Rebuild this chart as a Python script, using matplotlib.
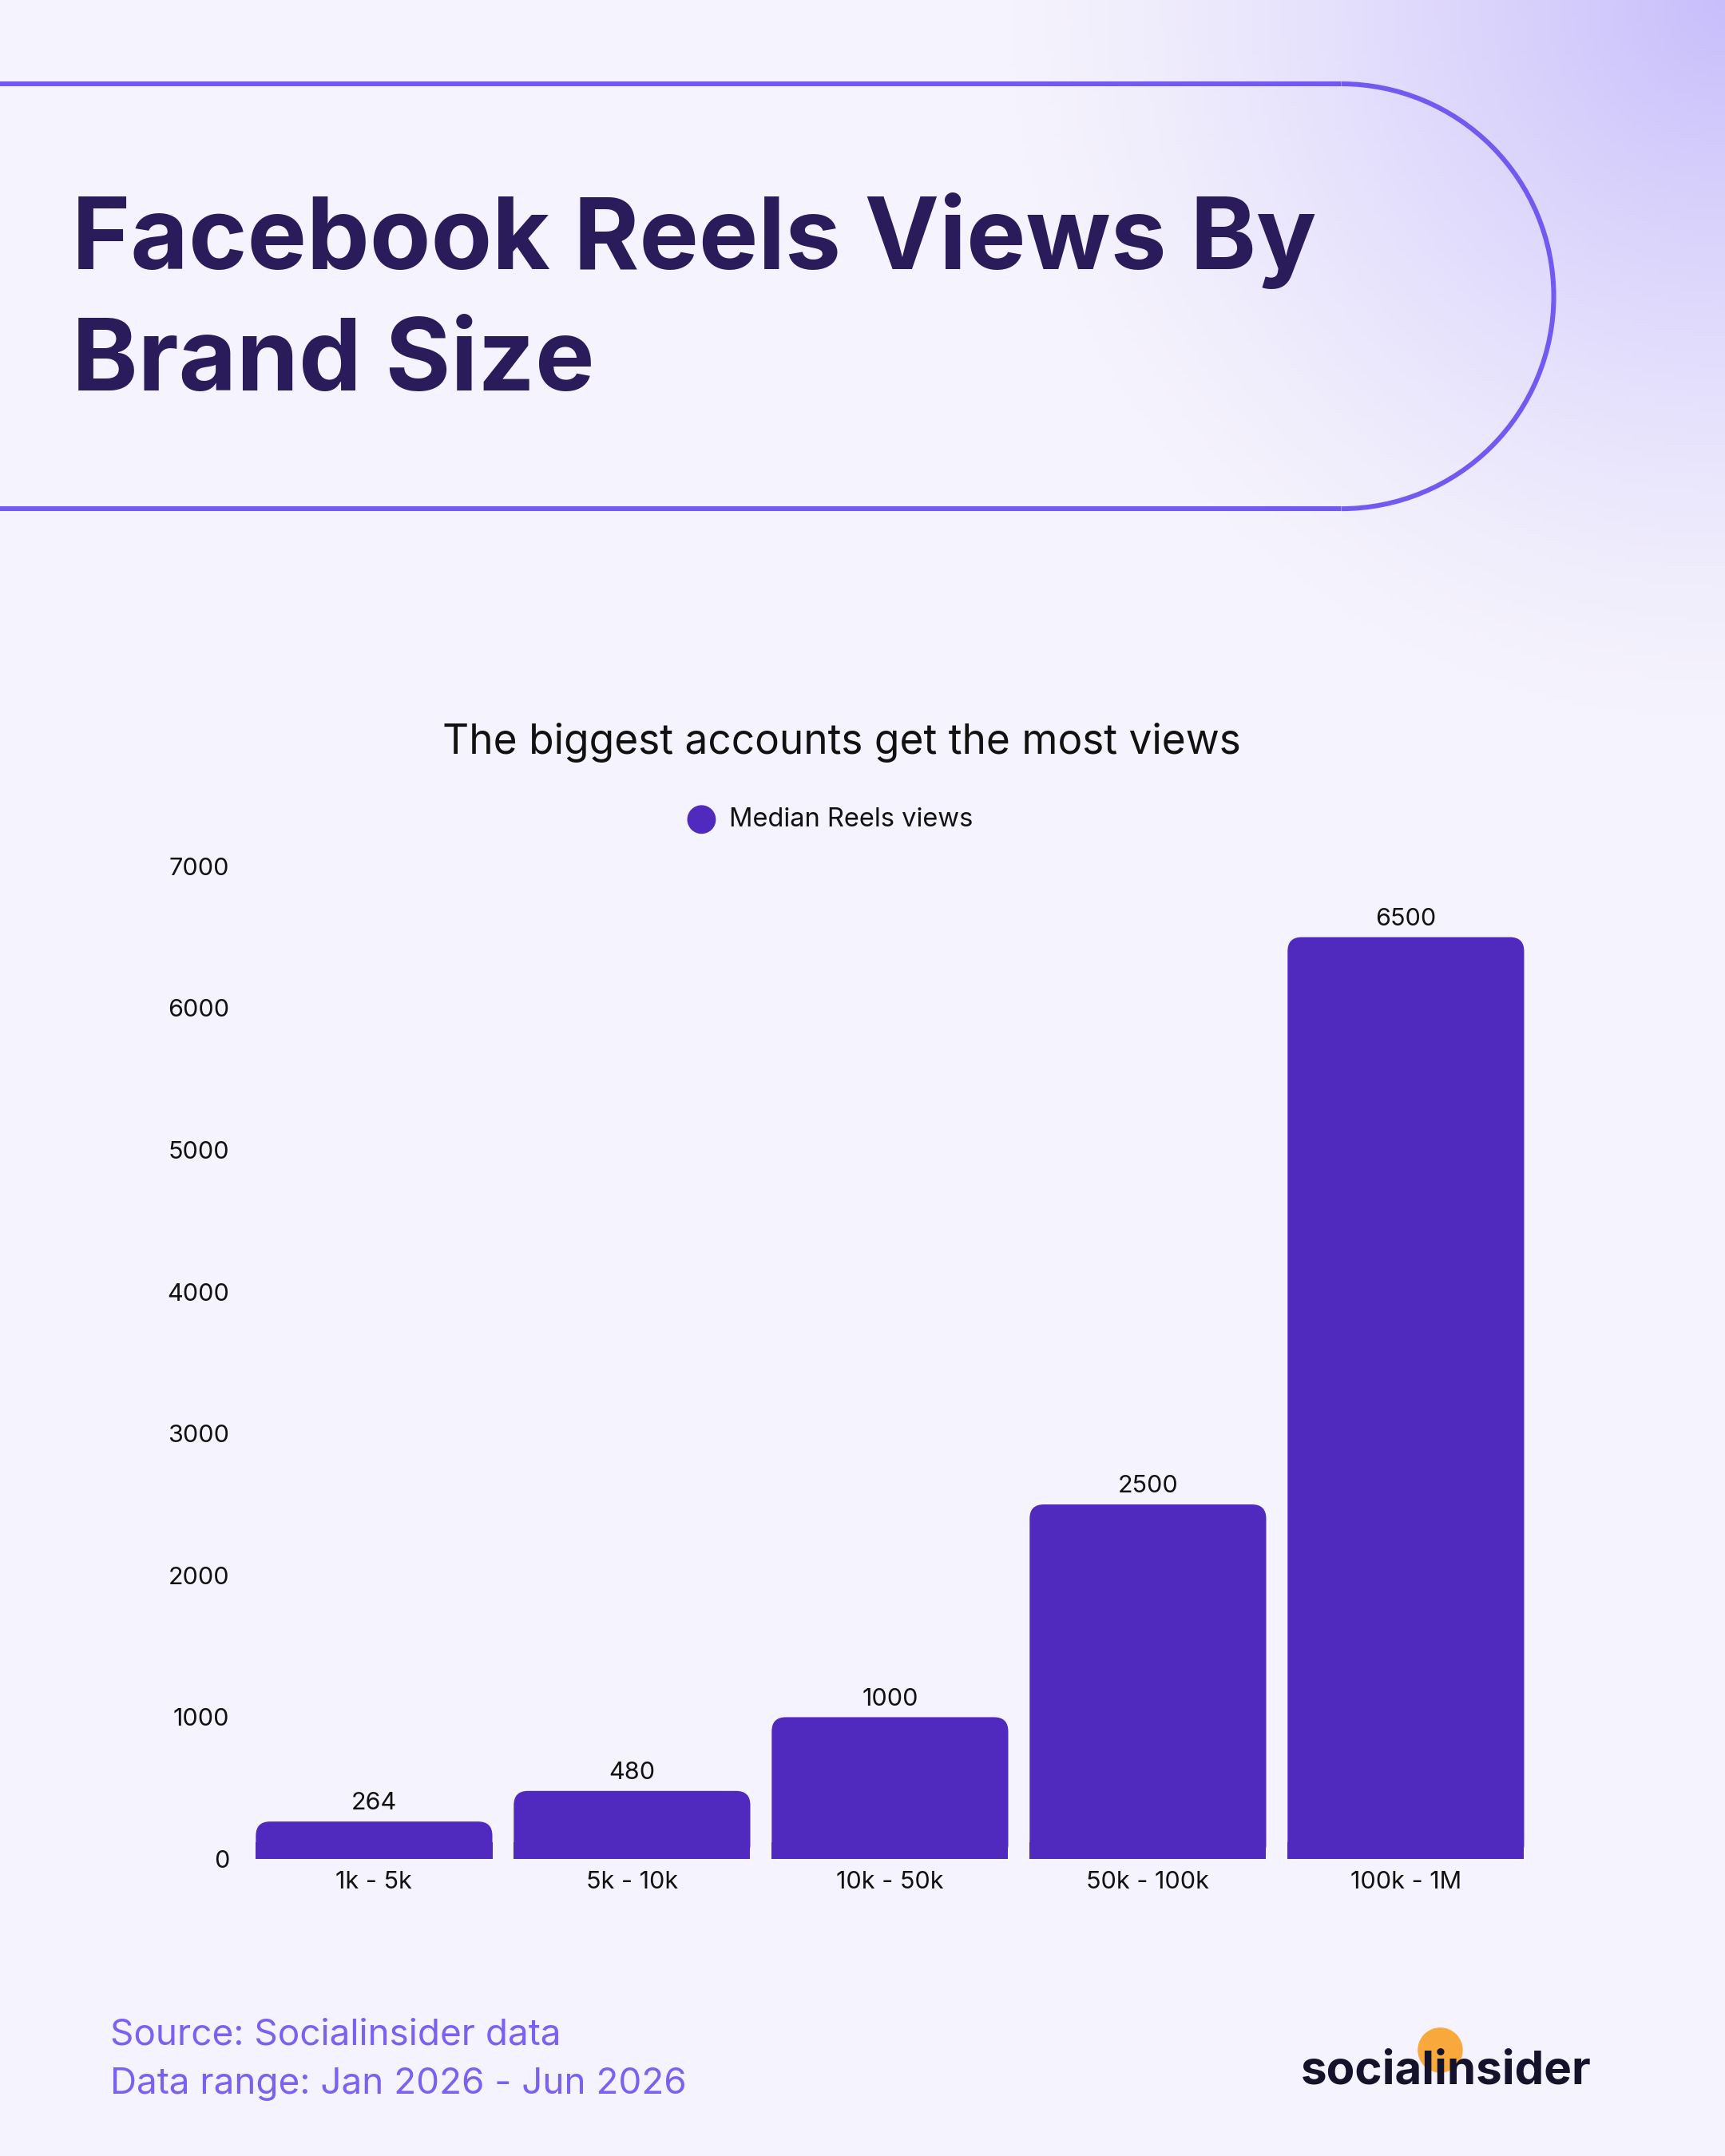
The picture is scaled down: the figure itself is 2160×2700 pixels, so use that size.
import numpy as np
import matplotlib
matplotlib.use("Agg")
import matplotlib.pyplot as plt
from matplotlib.patches import FancyBboxPatch, Rectangle, Arc, Circle

categories = ["1k - 5k", "5k - 10k", "10k - 50k", "50k - 100k", "100k - 1M"]
values = [264, 480, 1000, 2500, 6500]
yticks = [0, 1000, 2000, 3000, 4000, 5000, 6000, 7000]

W, H = 1254, 1568
fig = plt.figure(figsize=(21.6, 27), dpi=100)
fig.patch.set_facecolor("#F5F3FD")
S = 2160 / W

def fx(x): return x / W
def fy(y): return 1 - y / H

# background
bg = fig.add_axes([0, 0, 1, 1])
bg.set_xlim(0, W); bg.set_ylim(H, 0); bg.axis("off")
yy, xx = np.mgrid[0:H:4, 0:W:4]
d = np.sqrt((xx - W) ** 2 + (yy - 0) ** 2)
t = np.clip(1 - d / 520, 0, 1) ** 1.3
base = np.array([0xF5, 0xF3, 0xFD]) / 255
corner = np.array([0xC8, 0xBE, 0xFB]) / 255
img = base[None, None, :] * (1 - t[..., None]) + corner[None, None, :] * t[..., None]
bg.imshow(img, extent=[0, W, H, 0], aspect="auto", zorder=0)
pc = "#7159F2"
lw = 3.5 * S * 0.72
bg.plot([0, 975], [61, 61], color=pc, lw=lw, solid_capstyle="butt")
bg.plot([0, 975], [370, 370], color=pc, lw=lw, solid_capstyle="butt")
bg.add_patch(Arc((975, 215.5), 309, 309, theta1=-90, theta2=90, color=pc, lw=lw))

title_c = "#2A1B5B"
fig.text(fx(52), fy(175), "Facebook Reels Views By", fontsize=90, fontweight="bold",
         family="Inter", color=title_c, va="center", ha="left")
fig.text(fx(52), fy(265), "Brand Size", fontsize=90, fontweight="bold",
         family="Inter", color=title_c, va="center", ha="left")

fig.text(fx(612), fy(540), "The biggest accounts get the most views", fontsize=37,
         family="Inter", color="#111111", ha="center", va="center")
bg.add_patch(Circle((510, 596), 10, color="#5029BE"))
fig.text(fx(530), fy(596), "Median Reels views", fontsize=23.5, family="Inter",
         color="#111111", ha="left", va="center")

# chart
ax = fig.add_axes([fx(178), fy(1352), fx(1115) - fx(178), fy(630) - fy(1352)])
ax.set_facecolor("none")
x0, x1 = -0.501, 4.496
ax.set_xlim(x0, x1)
ax.set_ylim(0, 7000)
x = np.arange(len(categories))
bars = ax.bar(x, values, width=0.917, color="none")
xpp = (x1 - x0) / 937
ypp = 7000 / 722
asp = ypp / xpp
bc = "#5029BE"
for b, v in zip(bars, values):
    r = 0.055
    ax.add_patch(FancyBboxPatch((b.get_x(), 0), b.get_width(), v,
                 boxstyle=f"round,pad=0,rounding_size={r}", mutation_aspect=asp,
                 fc=bc, ec="none", zorder=2))
    ax.add_patch(Rectangle((b.get_x(), 0), b.get_width(), min(v, 120), fc=bc, ec="none", zorder=2))
    ax.text(b.get_x() + b.get_width() / 2, v + 50, f"{v}", ha="center", va="bottom",
            fontsize=22, family="Inter", color="#111111")
ax.set_xticks(x)
ax.set_xticklabels(categories, fontsize=22, family="Inter", color="#111111")
ax.set_yticks(yticks)
ax.set_yticklabels([str(v) for v in yticks], fontsize=22, family="Inter", color="#111111")
ax.tick_params(length=0, pad=11)
ax.tick_params(axis="y", pad=14)
for sp in ax.spines.values():
    sp.set_visible(False)

sc = "#7B61F0"
fig.text(fx(80), fy(1480), "Source: Socialinsider data", fontsize=33, family="Inter",
         color=sc, ha="left", va="center")
fig.text(fx(80), fy(1516), "Data range: Jan 2026 - Jun 2026", fontsize=33, family="Inter",
         color=sc, ha="left", va="center")

bg.add_patch(Circle((1047, 1491), 16, color="#F9A93B", zorder=3))
fig.text(fx(1157), fy(1507), "socialinsider", fontsize=42, fontweight="bold", family="Inter",
         color="#15122B", ha="right", va="center", zorder=5)

fig.savefig("out.png", dpi=100, facecolor=fig.get_facecolor())
